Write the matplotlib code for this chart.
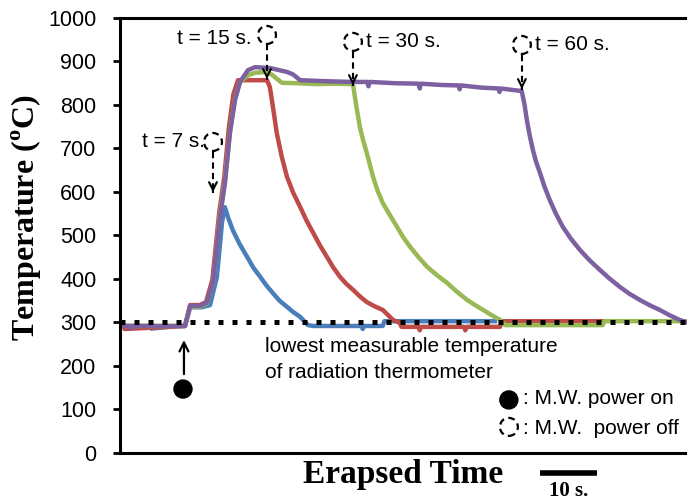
import numpy as np
import matplotlib.pyplot as plt
from matplotlib.patches import Ellipse

plt.rcParams['font.family'] = 'Liberation Sans'
plt.rcParams['mathtext.fontset'] = 'custom'
plt.rcParams['mathtext.rm'] = 'Liberation Serif:bold'

# time in s (0 = microwave power on), temperature in deg C
blue_t = [-11.4, -6.0, -5.9, -1.0, 0.0, 0.9, 3.0, 4.4, 5.6, 6.5, 7.0, 7.6, 8.4, 9.6,
          10.9, 12.0, 13.2, 14.3, 15.4, 16.6, 17.9, 19.0, 20.2, 21.6, 22.5, 31.0,
          31.2, 31.4, 34.7, 35.0, 54.4]
blue_T = [292, 292, 286, 292, 292, 335, 335, 340, 405, 530, 565, 540, 512, 480,
          451, 426, 405, 385, 368, 350, 336, 324, 313, 294, 292, 292,
          285, 292, 292, 303, 303]

red_t = [-11.4, -10.8, -10.6, 0.0, 0.9, 2.6, 3.7, 4.8, 6.0, 6.9, 7.7, 8.5, 9.3,
         14.4, 14.9, 15.5, 16.1, 17.0, 17.9, 19.0, 20.2, 21.3, 22.5, 23.7, 24.9,
         26.0, 27.2, 28.3, 29.5, 30.7, 31.9, 33.3, 34.7, 36.5, 37.7,
         38.0, 41.0, 41.2, 41.4, 49.0, 49.2, 49.4, 55.3, 55.6, 73.3]
red_T = [292, 292, 285, 292, 340, 340, 347, 398, 552, 635, 748, 825, 857,
         857, 841, 790, 736, 680, 635, 598, 566, 535, 506, 477, 451,
         427, 405, 389, 375, 360, 347, 337, 329, 306, 299,
         290, 290, 282, 290, 290, 282, 290, 290, 303, 303]

green_t = [-11.4, 0.0, 0.9, 2.6, 3.8, 4.9, 6.1, 7.0, 7.9, 8.8, 9.65, 11.0, 12.3,
           14.4, 15.2, 17.0, 20.0, 23.0, 26.0, 29.3, 29.5, 30.1, 30.7, 31.3, 31.9,
           33.0, 33.8, 34.7, 36.0, 37.2, 38.3, 39.5, 41.0, 42.5, 44.2, 46.0, 47.7,
           49.5, 50.9, 52.3, 53.8, 55.3, 56.2, 73.3, 73.6, 88.1]
green_T = [292, 292, 336, 336, 343, 390, 545, 625, 740, 815, 852, 868, 874,
           876, 870, 851, 850, 848, 849, 848, 846, 795, 749, 717, 690,
           635, 603, 575, 546, 520, 496, 474, 450, 428, 409, 391, 371,
           352, 340, 329, 317, 306, 294, 294, 303, 303]

purple_t = [-11.4, -9.5, -9.3, -9.1, 0.0, 0.9, 2.6, 3.8, 4.9, 6.14, 7.02, 7.89, 8.77,
            9.65, 11.05, 12.3, 14.9, 17.9, 19.0, 20.2, 24.0, 29.3, 32.0, 32.2, 32.4,
            37.0, 41.0, 41.2, 41.4, 45.0, 48.0, 48.2, 48.4, 52.0, 55.0, 55.2, 55.4,
            59.1, 59.6, 60.0, 60.5, 61.05, 61.6, 62.3, 63.1, 64.0, 65.1, 66.3, 67.7,
            69.3, 71.0, 72.8, 74.5, 76.3, 78.0, 79.8, 81.5, 83.3, 85.0, 86.8, 88.1]
purple_T = [292, 292, 286, 292, 292, 338, 338, 345, 391, 542, 621, 736, 811,
            853, 880, 887, 885, 876, 870, 857, 855, 853, 853, 843, 853,
            850, 849, 838, 849, 846, 845, 836, 845, 840, 838, 830, 838,
            832, 800, 765, 730, 697, 670, 644, 612, 582, 550, 520, 493,
            467, 443, 421, 401, 382, 366, 352, 340, 329, 317, 306, 300]

series = [(blue_t, blue_T, '#4a7ebb'), (red_t, red_T, '#be4b48'),
          (green_t, green_T, '#98b954'), (purple_t, purple_T, '#7d60a0')]

xmin, xmax = -11.4, 88.1
fig = plt.figure(figsize=(6.87, 5.04), dpi=100)
ax = fig.add_axes([0.1747, 0.1012, 0.8253, 0.8631])

for t, T, c in series:
    ax.plot(t, T, color=c, lw=3.2, solid_joinstyle='round')

# lowest measurable temperature
ax.plot([xmin, xmax], [300, 300], color='black', lw=3.6, linestyle=(0, (1, 1.8)),
        dash_capstyle='butt', zorder=5)

ax.set_xlim(xmin, xmax)
ax.set_ylim(0, 1000)
ax.set_yticks(np.arange(0, 1001, 100))
ax.set_xticks([])
ax.tick_params(axis='y', labelsize=15.5, length=5, width=2, pad=12)
for s in ['left', 'top', 'bottom']:
    ax.spines[s].set_linewidth(2.2)
ax.spines['right'].set_visible(False)

ax.set_ylabel('Temperature ($^{\\rm o}$C)', family='Liberation Serif',
              weight='bold', fontsize=23)
ax.yaxis.set_label_coords(-0.134, 0.54)
ax.text(0.5, -0.069, 'Erapsed Time', transform=ax.transAxes, ha='center',
        va='baseline', family='Liberation Serif', weight='bold', fontsize=24)

# px per data unit, to draw round circles
sx = 687 * 0.8253 / (xmax - xmin)
sy = 504 * 0.8631 / 1000.0
r = 9


def circle(x, y, filled=False):
    if filled:
        e = Ellipse((x, y), 2 * r / sx, 2 * r / sy, facecolor='black',
                    edgecolor='black', clip_on=False, zorder=6)
    else:
        e = Ellipse((x, y), 2 * r / sx, 2 * r / sy, facecolor='white',
                    edgecolor='black', lw=1.6, linestyle=(0, (3, 2)),
                    clip_on=False, zorder=6)
    ax.add_patch(e)


def off_arrow(x, y0, y1):
    ax.plot([x, x], [y0, y1 + 12], color='black', lw=1.5,
            linestyle=(0, (3, 2)), zorder=6)
    ax.annotate('', xy=(x, y1), xytext=(x, y1 + 14),
                arrowprops=dict(arrowstyle='->', lw=1.5, color='black',
                                mutation_scale=14), zorder=6)


fs = 15
# power off markers
circle(4.91, 715)
off_arrow(4.91, 692, 593)
ax.text(3.5, 715, 't = 7 s.', ha='right', va='center', fontsize=fs)

circle(14.39, 961)
off_arrow(14.39, 940, 853)
ax.text(11.75, 954, 't = 15 s.', ha='right', va='center', fontsize=fs)

circle(29.47, 945)
off_arrow(29.47, 922, 839)
ax.text(31.7, 945, 't = 30 s.', ha='left', va='center', fontsize=fs)

circle(59.12, 938)
off_arrow(59.12, 915, 830)
ax.text(61.5, 938, 't = 60 s.', ha='left', va='center', fontsize=fs)

# power on
circle(-0.35, 147, filled=True)
ax.annotate('', xy=(-0.18, 266), xytext=(-0.18, 175),
            arrowprops=dict(arrowstyle='->', lw=1.6, color='black',
                            mutation_scale=16))

ax.text(14.0, 244, 'lowest measurable temperature', ha='left', va='center', fontsize=fs)
ax.text(14.0, 184, 'of radiation thermometer', ha='left', va='center', fontsize=fs)

circle(56.84, 122, filled=True)
ax.text(59.4, 126, ': M.W. power on', ha='left', va='center', fontsize=fs)
circle(56.84, 60)
ax.text(59.4, 57, ': M.W.  power off', ha='left', va='center', fontsize=fs)

# 10 s scale bar
ax.plot([62.3, 72.3], [-46, -46], color='black', lw=4, solid_capstyle='butt',
        clip_on=False)
ax.text(67.3, -100, '10 s.', ha='center', va='baseline', family='Liberation Serif',
        weight='bold', fontsize=15)

fig.savefig('out.png', dpi=100)
